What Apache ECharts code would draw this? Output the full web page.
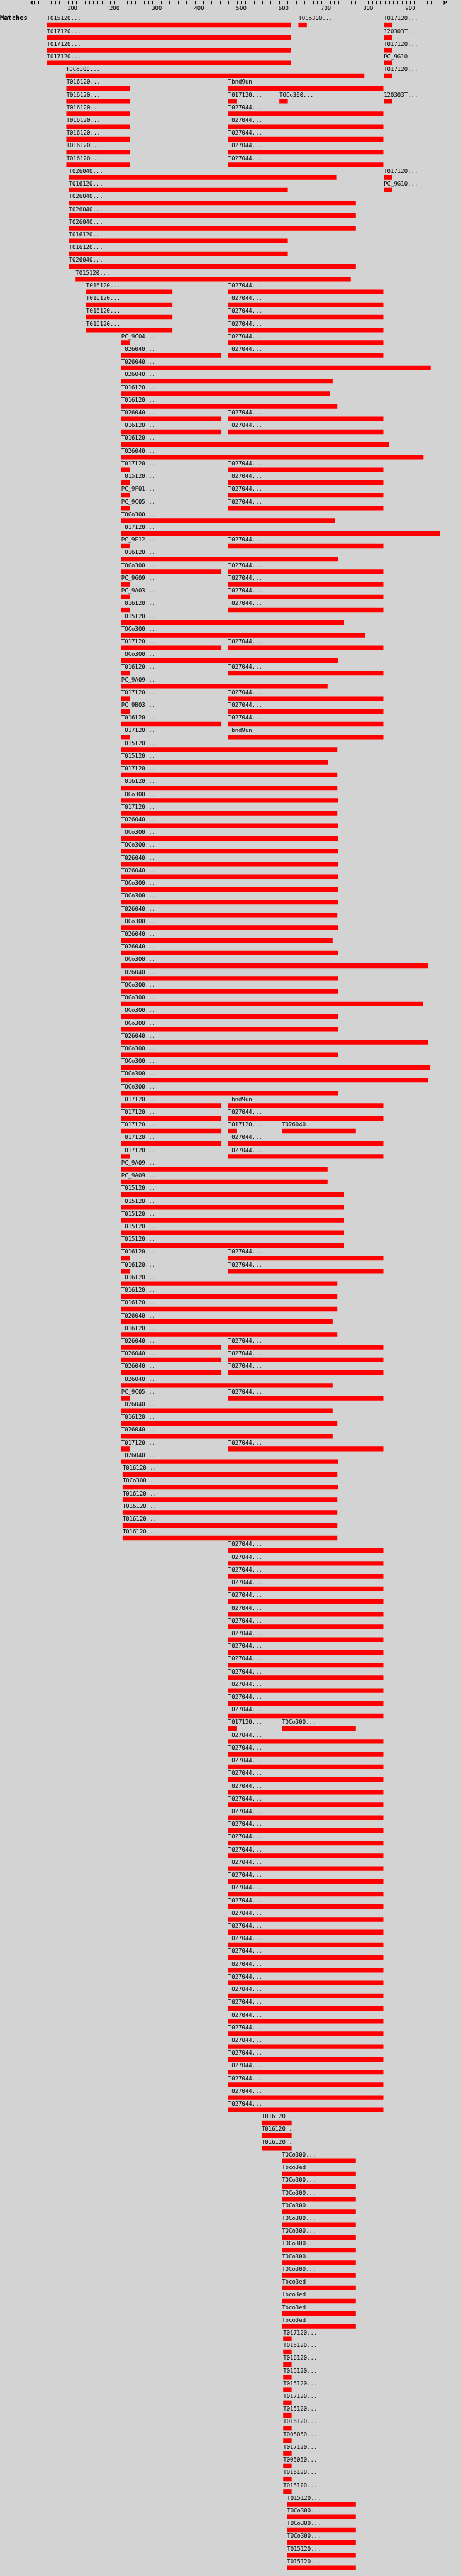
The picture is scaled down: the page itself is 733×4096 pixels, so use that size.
<!DOCTYPE html>
<html>
<head>
<meta charset="utf-8">
<script src="https://cdn.jsdelivr.net/npm/echarts@6/dist/echarts.min.js"></script>
<style>
html,body{margin:0;padding:0;background:#d3d3d3;}
#chart{width:733px;height:4096px;}
</style>
</head>
<body>
<div id="chart"></div>
<script>
// ---- data: one entry per aligned segment (row index, label, start, end in query coordinates) ----
const axisMin = 0;
const axisMax = 985;
const rowCount = 201;

const segRow = [
  0,0,0, 1,1, 2,2, 3,3, 4,4, 5,5, 6,6,6,6,
  7,7, 8,8, 9,9, 10,10, 11,11, 12,12, 13,13,
  14,15,16,17,18,19,20,
  21,21, 22,22, 23,23, 24,24, 25,25, 26,26,
  27,28,29,30, 31,31, 32,32, 33,34,
  35,35, 36,36, 37,37, 38,38, 39,40, 41,41, 42,
  43,43, 44,44, 45,45, 46,46, 47,48, 49,49,
  50, 51,51, 52, 53,53, 54,54, 55,55, 56,56,
  57,58,59,60,61,62,63,64,65,66,67,68,69,
  70,71,72,73,74,75,76,77,78,79,80,81,82,83,84,
  85,85, 86,86, 87,87,87, 88,88, 89,89,
  90,91,92,93,94,95,96, 97,97, 98,98, 99,100,101,102,103,
  104,104, 105,105, 106,106, 107, 108,108, 109,110,111, 112,112, 113,
  114,115,116,117,118,119,
  120,121,122,123,124,125,126,127,128,129,130,131,132,133,
  134,134,
  135,136,137,138,139,140,141,142,143,144,145,146,147,148,149,
  150,151,152,153,154,155,156,157,158,159,160,161,162,163,164,
  165,166,167,168,169,170,171,172,173,174,175,176,177,178,179,180,181,
  182,183,184,185,186,187,188,189,190,191,192,193,194,
  195,196,197,198,199,200
];

const segName = [
  'T015120...','TOCo300...','T017120...', 'T017120...','120303T...', 'T017120...','T017120...', 'T017120...','PC_9G10...', 'TOCo300...','T017120...', 'T016120...','Tbnd9un', 'T016120...','T017120...','TOCo300...','120303T...',
  'T016120...','T027044...', 'T016120...','T027044...', 'T016120...','T027044...', 'T016120...','T027044...', 'T016120...','T027044...', 'T026040...','T017120...', 'T016120...','PC_9G10...',
  'T026040...','T026040...','T026040...','T016120...','T016120...','T026040...','T015120...',
  'T016120...','T027044...', 'T016120...','T027044...', 'T016120...','T027044...', 'T016120...','T027044...', 'PC_9C04...','T027044...', 'T026040...','T027044...',
  'T026040...','T026040...','T016120...','T016120...', 'T026040...','T027044...', 'T016120...','T027044...', 'T016120...','T026040...',
  'T017120...','T027044...', 'T015120...','T027044...', 'PC_9F01...','T027044...', 'PC_9C05...','T027044...', 'TOCo300...','T017120...', 'PC_9E12...','T027044...', 'T016120...',
  'TOCo300...','T027044...', 'PC_9G09...','T027044...', 'PC_9A03...','T027044...', 'T016120...','T027044...', 'T015120...','TOCo300...', 'T017120...','T027044...',
  'TOCo300...', 'T016120...','T027044...', 'PC_9A09...', 'T017120...','T027044...', 'PC_9B03...','T027044...', 'T016120...','T027044...', 'T017120...','Tbnd9un',
  'T015120...','T015120...','T017120...','T016120...','TOCo300...','T017120...','T026040...','TOCo300...','TOCo300...','T026040...','T026040...','TOCo300...','TOCo300...',
  'T026040...','TOCo300...','T026040...','T026040...','TOCo300...','T026040...','TOCo300...','TOCo300...','TOCo300...','TOCo300...','T026040...','TOCo300...','TOCo300...','TOCo300...','TOCo300...',
  'T017120...','Tbnd9un', 'T017120...','T027044...', 'T017120...','T017120...','T026040...', 'T017120...','T027044...', 'T017120...','T027044...',
  'PC_9A09...','PC_9A09...','T015120...','T015120...','T015120...','T015120...','T015120...', 'T016120...','T027044...', 'T016120...','T027044...', 'T016120...','T016120...','T016120...','T026040...','T016120...',
  'T026040...','T027044...', 'T026040...','T027044...', 'T026040...','T027044...', 'T026040...', 'PC_9C05...','T027044...', 'T026040...','T016120...','T026040...', 'T017120...','T027044...', 'T026040...',
  'T016120...','TOCo300...','T016120...','T016120...','T016120...','T016120...',
  'T027044...','T027044...','T027044...','T027044...','T027044...','T027044...','T027044...','T027044...','T027044...','T027044...','T027044...','T027044...','T027044...','T027044...',
  'T017120...','TOCo300...',
  'T027044...','T027044...','T027044...','T027044...','T027044...','T027044...','T027044...','T027044...','T027044...','T027044...','T027044...','T027044...','T027044...','T027044...','T027044...',
  'T027044...','T027044...','T027044...','T027044...','T027044...','T027044...','T027044...','T027044...','T027044...','T027044...','T027044...','T027044...','T027044...','T027044...','T027044...',
  'T016120...','T016120...','T016120...','TOCo300...','Tbco3ed','TOCo300...','TOCo300...','TOCo300...','TOCo300...','TOCo300...','TOCo300...','TOCo300...','TOCo300...','Tbco3ed','Tbco3ed','Tbco3ed','Tbco3ed',
  'T017120...','T015120...','T016120...','T015120...','T015120...','T017120...','T015120...','T016120...','T005050...','T017120...','T005050...','T016120...','T015120...',
  'T015120...','TOCo300...','TOCo300...','TOCo300...','T015120...','T015120...'
];

const segStart = [
  40,635,837, 40,837, 40,837, 40,837, 85,837, 86,469, 86,469,590,837,
  86,469, 86,469, 86,469, 86,469, 86,469, 92,837, 92,837,
  92,92,92,92,92,92,108,
  133,469, 133,469, 133,469, 133,469, 216,469, 216,469,
  216,216,216,216, 216,469, 216,469, 216,216,
  216,469, 216,469, 216,469, 216,469, 216,216, 216,469, 216,
  216,469, 216,469, 216,469, 216,469, 216,216, 216,469,
  216, 216,469, 216, 216,469, 216,469, 216,469, 216,469,
  216,216,216,216,216,216,216,216,216,216,216,216,216,
  216,216,216,216,216,216,216,216,216,216,216,216,216,216,216,
  216,469, 216,469, 216,469,596, 216,469, 216,469,
  216,216,216,216,216,216,216, 216,469, 216,469, 216,216,216,216,216,
  216,469, 216,469, 216,469, 216, 216,469, 216,216,216, 216,469, 216,
  219,219,219,219,219,219,
  469,469,469,469,469,469,469,469,469,469,469,469,469,469,
  469,596,
  469,469,469,469,469,469,469,469,469,469,469,469,469,469,469,
  469,469,469,469,469,469,469,469,469,469,469,469,469,469,469,
  548,548,548,596,596,596,596,596,596,596,596,596,596,596,596,596,596,
  599,599,599,599,599,599,599,599,599,599,599,599,599,
  608,608,608,608,608,608
];

const segEnd = [
  618,655,857, 617,857, 617,857, 617,857, 791,857, 237,836, 237,490,610,857,
  237,836, 237,836, 237,836, 237,836, 237,836, 726,857, 610,857,
  771,771,771,610,610,771,759,
  337,836, 337,836, 337,836, 337,836, 237,836, 453,836,
  948,716,710,727, 453,836, 453,836, 850,931,
  237,836, 237,836, 237,836, 237,836, 721,970, 237,836, 729,
  453,836, 237,836, 237,836, 237,836, 743,793, 453,836,
  729, 237,836, 704, 237,836, 237,836, 453,836, 237,836,
  727,705,727,727,729,727,729,729,729,729,729,729,729,
  727,729,716,729,941,729,729,929,729,729,941,729,947,941,729,
  453,836, 453,836, 453,490,771, 453,836, 237,836,
  704,704,743,743,743,743,743, 237,836, 237,836, 727,727,727,716,727,
  453,836, 453,836, 453,836, 716, 237,836, 716,727,716, 237,836, 729,
  727,729,727,727,727,727,
  836,836,836,836,836,836,836,836,836,836,836,836,836,836,
  490,771,
  836,836,836,836,836,836,836,836,836,836,836,836,836,836,836,
  836,836,836,836,836,836,836,836,836,836,836,836,836,836,836,
  619,619,619,771,771,771,771,771,771,771,771,771,771,771,771,771,771,
  619,619,619,619,619,619,619,619,619,619,619,619,619,
  771,771,771,771,771,771
];

// ---- layout (reference pixels scaled by 0.919) ----
const S = 0.919;
const pxPerUnit = 0.73125 * S;
const gridLeft = 51.875 * S;
const gridTop = 26 * S;
const rowPitch = 22 * S;
const barOffset = 13 * S;
const barHeight = 8 * S;

const rowCats = [];
for (let i = 0; i < rowCount; i++) rowCats.push(String(i));

const seriesData = segRow.map((r, i) => [r, segStart[i], segEnd[i], i]);

const chart = echarts.init(document.getElementById('chart'), null, {renderer: 'canvas'});
const monoFont = '"DejaVu Sans Mono", "Liberation Mono", monospace';

const option = {
  backgroundColor: '#d3d3d3',
  animation: false,
  title: {
    text: 'Matches',
    left: 0,
    top: 24,
    padding: 0,
    textStyle: {fontFamily: monoFont, fontWeight: 'bold', fontSize: 10.4, color: '#000'}
  },
  grid: {
    left: gridLeft,
    top: gridTop,
    width: (axisMax - axisMin) * pxPerUnit,
    height: rowCount * rowPitch,
    containLabel: false
  },
  xAxis: [{
    type: 'value',
    min: axisMin,
    max: axisMax,
    interval: 10,
    position: 'top',
    offset: gridTop - 4.2,
    axisLine: {show: true, lineStyle: {color: '#000', width: 1}, symbol: ['arrow', 'arrow'], symbolSize: [6, 5]},
    axisTick: {show: true, inside: true, length: 3, lineStyle: {color: '#000', width: 1}},
    axisLabel: {
      show: true, inside: true, margin: 5,
      color: '#000', fontFamily: monoFont, fontSize: 9,
      showMinLabel: false, showMaxLabel: false,
      formatter: function (v) { return (v % 100 === 0 && v > 0) ? String(v) : ''; }
    },
    splitLine: {show: false}
  }, {
    type: 'value',
    min: axisMin,
    max: axisMax,
    interval: 10,
    position: 'top',
    offset: gridTop - 4.2,
    axisLine: {show: false},
    axisTick: {show: true, inside: false, length: 3, lineStyle: {color: '#000', width: 1}},
    axisLabel: {show: false},
    splitLine: {show: false}
  }],
  yAxis: {
    type: 'category',
    data: rowCats,
    inverse: true,
    show: false
  },
  series: [{
    type: 'custom',
    xAxisIndex: 0,
    yAxisIndex: 0,
    encode: {x: [1, 2], y: 0},
    data: seriesData,
    clip: false,
    renderItem: function (params, api) {
      const row = api.value(0);
      const p0 = api.coord([api.value(1), row]);
      const p1 = api.coord([api.value(2), row]);
      const band = api.size([0, 1])[1];
      const top = p0[1] - band / 2 + barOffset;
      const idx = api.value(3);
      return {
        type: 'group',
        children: [{
          type: 'rect',
          shape: {x: p0[0], y: top, width: p1[0] - p0[0], height: barHeight},
          style: {fill: '#ff0000'}
        }, {
          type: 'text',
          style: {
            text: segName[idx],
            x: p0[0],
            y: top - 5.9,
            verticalAlign: 'middle',
            align: 'left',
            fill: '#000',
            fontFamily: monoFont,
            fontSize: 9
          }
        }]
      };
    }
  }]
};
chart.setOption(option);
</script>
</body>
</html>
